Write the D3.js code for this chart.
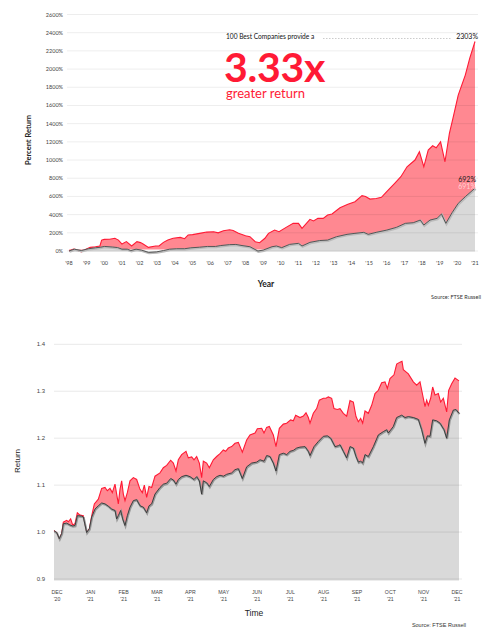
<!DOCTYPE html>
<html>
<head>
<meta charset="utf-8">
<script src="https://cdn.jsdelivr.net/npm/d3@7"></script>
<style>
  body { margin: 0; background: #fff; }
  svg { display: block; }
</style>
</head>
<body>
<svg></svg>
<script>
const width = 491;
const height = 634;

// top chart: cumulative percent return since 1998
const yearTicks = d3.range(1998, 2022);
const pctTicks = d3.range(0, 2601, 200);
const best100Long = [
  [1998.0, 0], [1998.25, 22], [1998.4, 15], [1998.7, -10], [1998.9, 15], [1999.2, 40], [1999.5, 47],
  [1999.75, 55], [1999.85, 120], [2000.0, 128], [2000.3, 130], [2000.6, 140], [2000.8, 120], [2001.0, 77],
  [2001.25, 103], [2001.55, 55], [2001.85, 103], [2002.05, 92], [2002.2, 77], [2002.5, 40], [2002.9, 55],
  [2003.1, 55], [2003.35, 95], [2003.6, 120], [2003.9, 140], [2004.3, 150], [2004.55, 135], [2004.75, 176],
  [2005.0, 180], [2005.4, 194], [2005.8, 208], [2006.2, 212], [2006.45, 200], [2006.75, 222], [2007.1, 233],
  [2007.3, 225], [2007.6, 194], [2008.0, 168], [2008.25, 157], [2008.55, 102], [2008.8, 91], [2009.1, 140],
  [2009.3, 194], [2009.65, 230], [2009.9, 212], [2010.3, 260], [2010.7, 304], [2011.0, 304], [2011.2, 249],
  [2011.65, 348], [2011.85, 330], [2012.1, 359], [2012.4, 359], [2012.65, 396], [2012.9, 407], [2013.35, 476],
  [2013.8, 513], [2014.2, 542], [2014.6, 608], [2014.8, 600], [2015.05, 571], [2015.4, 578], [2015.7, 590],
  [2016.0, 652], [2016.45, 744], [2016.8, 817], [2017.15, 926], [2017.6, 1000], [2017.85, 1091], [2018.1, 926],
  [2018.35, 1110], [2018.6, 1157], [2018.8, 1135], [2019.05, 1200], [2019.3, 981], [2019.55, 1293],
  [2019.75, 1458], [2020.05, 1714], [2020.45, 1934], [2020.7, 2117], [2021.0, 2303]
];
const russellLong = [
  [1998.0, 0], [1998.3, 20], [1998.7, 5], [1999.1, 25], [1999.5, 35], [1999.8, 42], [2000.0, 50],
  [2000.45, 44], [2000.75, 38], [2001.0, 20], [2001.3, 20], [2001.5, 5], [2001.8, 20], [2002.1, 10],
  [2002.5, -15], [2002.95, -10], [2003.35, 5], [2003.7, 20], [2004.1, 25], [2004.55, 25], [2004.9, 35],
  [2005.4, 42], [2005.85, 50], [2006.3, 50], [2006.6, 60], [2007.1, 70], [2007.45, 72], [2007.8, 60],
  [2008.25, 47], [2008.7, 0], [2009.0, 10], [2009.5, 47], [2009.75, 55], [2010.05, 37], [2010.5, 73],
  [2011.0, 84], [2011.2, 55], [2011.65, 95], [2012.2, 115], [2012.65, 120], [2013.15, 157], [2013.75, 183],
  [2014.2, 194], [2014.7, 205], [2014.95, 183], [2015.4, 205], [2016.0, 230], [2016.55, 260], [2017.05, 304],
  [2017.5, 311], [2017.9, 340], [2018.1, 285], [2018.45, 340], [2018.85, 359], [2019.1, 407], [2019.35, 304],
  [2019.7, 421], [2020.05, 524], [2020.45, 597], [2021.0, 691]
];

// bottom chart: growth of 1 over the last year (months from Dec '20)
const monthLabels = ["DEC", "JAN", "FEB", "MAR", "APR", "MAY", "JUN", "JUL", "AUG", "SEP", "OCT", "NOV", "DEC"];
const monthYears = ["'20", "'21", "'21", "'21", "'21", "'21", "'21", "'21", "'21", "'21", "'21", "'21", "'21"];
const returnTicks = [0.9, 1.0, 1.1, 1.2, 1.3, 1.4];
const best100Year = [
  [-0.09, 1.003], [-0.01, 0.999], [0.07, 0.986], [0.14, 0.997], [0.19, 1.021], [0.29, 1.025], [0.34, 1.022],
  [0.41, 1.028], [0.47, 1.015], [0.54, 1.018], [0.61, 1.041], [0.69, 1.036], [0.79, 1.035], [0.89, 1.000],
  [0.97, 1.007], [1.04, 1.034], [1.12, 1.060], [1.24, 1.070], [1.34, 1.093], [1.44, 1.095], [1.51, 1.088],
  [1.59, 1.093], [1.66, 1.084], [1.74, 1.102], [1.79, 1.081], [1.84, 1.060], [1.89, 1.091], [1.94, 1.109],
  [1.99, 1.081], [2.04, 1.067], [2.11, 1.084], [2.19, 1.109], [2.29, 1.116], [2.39, 1.112], [2.49, 1.091],
  [2.56, 1.084], [2.62, 1.100], [2.69, 1.074], [2.76, 1.097], [2.84, 1.095], [2.94, 1.119], [3.09, 1.126],
  [3.19, 1.137], [3.29, 1.142], [3.41, 1.153], [3.49, 1.147], [3.57, 1.130], [3.64, 1.154], [3.74, 1.165],
  [3.87, 1.172], [3.94, 1.158], [4.04, 1.160], [4.11, 1.154], [4.19, 1.161], [4.27, 1.147], [4.34, 1.116],
  [4.39, 1.151], [4.49, 1.147], [4.57, 1.137], [4.69, 1.154], [4.79, 1.161], [4.89, 1.167], [4.99, 1.175],
  [5.06, 1.172], [5.14, 1.179], [5.24, 1.182], [5.34, 1.189], [5.44, 1.191], [5.56, 1.170], [5.69, 1.196],
  [5.79, 1.207], [5.94, 1.211], [6.01, 1.220], [6.14, 1.221], [6.21, 1.211], [6.29, 1.223], [6.37, 1.225],
  [6.49, 1.207], [6.57, 1.182], [6.67, 1.221], [6.79, 1.230], [6.89, 1.232], [7.01, 1.239], [7.09, 1.237],
  [7.16, 1.249], [7.29, 1.244], [7.39, 1.247], [7.47, 1.254], [7.54, 1.244], [7.59, 1.232], [7.69, 1.253],
  [7.79, 1.263], [7.87, 1.281], [7.99, 1.285], [8.07, 1.285], [8.14, 1.288], [8.24, 1.285], [8.31, 1.263],
  [8.41, 1.261], [8.49, 1.263], [8.59, 1.253], [8.69, 1.247], [8.79, 1.280], [8.89, 1.277], [8.97, 1.246],
  [9.04, 1.235], [9.11, 1.242], [9.17, 1.232], [9.24, 1.258], [9.34, 1.253], [9.44, 1.270], [9.54, 1.295],
  [9.64, 1.302], [9.74, 1.318], [9.84, 1.320], [9.91, 1.306], [9.99, 1.327], [10.11, 1.335], [10.19, 1.358],
  [10.29, 1.362], [10.35, 1.364], [10.39, 1.346], [10.54, 1.337], [10.69, 1.320], [10.79, 1.313], [10.89, 1.320],
  [10.97, 1.292], [11.04, 1.267], [11.09, 1.281], [11.14, 1.270], [11.21, 1.285], [11.27, 1.309], [11.34, 1.292],
  [11.44, 1.295], [11.51, 1.277], [11.59, 1.285], [11.69, 1.256], [11.75, 1.302], [11.84, 1.316], [11.94, 1.328],
  [12.06, 1.322]
];
const russellYear = [
  [-0.09, 1.003], [-0.01, 0.999], [0.07, 0.986], [0.14, 0.997], [0.19, 1.018], [0.29, 1.019], [0.39, 1.015],
  [0.47, 1.013], [0.54, 1.014], [0.61, 1.035], [0.74, 1.034], [0.79, 1.032], [0.89, 0.999], [0.97, 1.007],
  [1.04, 1.032], [1.14, 1.049], [1.24, 1.056], [1.34, 1.062], [1.44, 1.060], [1.54, 1.055], [1.64, 1.049],
  [1.74, 1.046], [1.79, 1.028], [1.84, 1.035], [1.91, 1.046], [1.97, 1.028], [2.04, 1.014], [2.11, 1.035],
  [2.19, 1.053], [2.29, 1.067], [2.39, 1.069], [2.49, 1.056], [2.59, 1.053], [2.69, 1.041], [2.76, 1.056],
  [2.84, 1.060], [2.94, 1.081], [3.09, 1.095], [3.19, 1.102], [3.29, 1.104], [3.41, 1.114], [3.49, 1.111],
  [3.57, 1.102], [3.64, 1.112], [3.74, 1.118], [3.87, 1.121], [3.99, 1.118], [4.11, 1.112], [4.19, 1.118],
  [4.27, 1.109], [4.34, 1.081], [4.39, 1.109], [4.49, 1.105], [4.57, 1.097], [4.69, 1.112], [4.79, 1.118],
  [4.89, 1.121], [4.99, 1.119], [5.09, 1.123], [5.24, 1.126], [5.34, 1.133], [5.44, 1.135], [5.56, 1.114],
  [5.69, 1.139], [5.84, 1.147], [5.99, 1.149], [6.09, 1.154], [6.21, 1.151], [6.29, 1.163], [6.39, 1.161],
  [6.49, 1.147], [6.57, 1.130], [6.67, 1.165], [6.79, 1.168], [6.89, 1.165], [6.99, 1.172], [7.09, 1.174],
  [7.19, 1.179], [7.29, 1.181], [7.44, 1.182], [7.54, 1.172], [7.59, 1.163], [7.71, 1.182], [7.84, 1.193],
  [7.99, 1.204], [8.11, 1.205], [8.21, 1.200], [8.34, 1.182], [8.44, 1.184], [8.49, 1.186], [8.59, 1.172],
  [8.69, 1.158], [8.79, 1.182], [8.89, 1.179], [8.97, 1.161], [9.04, 1.149], [9.11, 1.151], [9.17, 1.147],
  [9.24, 1.165], [9.34, 1.161], [9.49, 1.182], [9.64, 1.207], [9.79, 1.214], [9.89, 1.218], [9.94, 1.211],
  [10.09, 1.225], [10.19, 1.244], [10.34, 1.249], [10.44, 1.244], [10.54, 1.246], [10.69, 1.244], [10.84, 1.240],
  [10.94, 1.218], [11.04, 1.189], [11.11, 1.205], [11.19, 1.204], [11.27, 1.239], [11.39, 1.237], [11.49, 1.232],
  [11.61, 1.218], [11.69, 1.200], [11.77, 1.239], [11.89, 1.260], [11.97, 1.261], [12.06, 1.253]
];

const red = "#ff1a35";
const pink = "#ff8891";
const grey = "#d9d9d9";
const topFont = "Lato, 'Open Sans', sans-serif";
const botFont = "'Liberation Sans', Arial, sans-serif";

const svg = d3.select("svg")
  .attr("width", width)
  .attr("height", height);

// ---------- top chart ----------
const xTop = d3.scaleLinear().domain([1998, 2021]).range([69, 475]);
const yTop = d3.scaleLinear().domain([0, 2600]).range([251, 14.5]);

const topG = svg.append("g").style("font-family", topFont);

const redAreaTop = d3.area().x(d => xTop(d[0])).y0(yTop(0) - 1.5).y1(d => yTop(d[1]));
const greyAreaTop = d3.area().x(d => xTop(d[0])).y0(yTop(0) + 0.5).y1(d => yTop(d[1]));
const lineTop = d3.line().x(d => xTop(d[0])).y(d => yTop(d[1]));

topG.append("path").datum(best100Long).attr("d", redAreaTop).attr("fill", pink);
topG.append("path").datum(russellLong).attr("d", greyAreaTop).attr("fill", grey);

topG.append("g")
  .selectAll("line")
  .data(pctTicks)
  .join("line")
    .attr("x1", 67).attr("x2", 478)
    .attr("y1", d => yTop(d)).attr("y2", d => yTop(d))
    .attr("stroke", "#000").attr("stroke-opacity", 0.07);

topG.append("path").datum(best100Long).attr("d", lineTop)
  .attr("fill", "none").attr("stroke", red).attr("stroke-width", 1.1);
topG.append("path").datum(russellLong).attr("d", lineTop)
  .attr("fill", "none").attr("stroke", "#bbb").attr("stroke-width", 2.2)
  .attr("transform", "translate(0.6,0.8)");
topG.append("path").datum(russellLong).attr("d", lineTop)
  .attr("fill", "none").attr("stroke", "#555").attr("stroke-width", 1);

topG.append("g")
  .selectAll("text")
  .data(pctTicks)
  .join("text")
    .attr("x", 63).attr("y", d => yTop(d) + 2)
    .attr("text-anchor", "end")
    .attr("font-size", 5.5).attr("fill", "#444")
    .text(d => d + "%");

topG.append("g")
  .selectAll("text")
  .data(yearTicks)
  .join("text")
    .attr("x", d => xTop(d)).attr("y", 265)
    .attr("text-anchor", "middle")
    .attr("font-size", 5.5).attr("fill", "#444")
    .text(d => "'" + String(d).slice(2));

topG.append("text")
  .attr("transform", `translate(31,140) rotate(-90)`)
  .attr("text-anchor", "middle")
  .attr("font-size", 7.5).attr("font-weight", 700).attr("fill", "#222")
  .text("Percent Return");

topG.append("text")
  .attr("x", 266).attr("y", 287)
  .attr("text-anchor", "middle")
  .attr("font-size", 8.5).attr("font-weight", 700).attr("fill", "#222")
  .text("Year");

topG.append("text")
  .attr("x", 481).attr("y", 299)
  .attr("text-anchor", "end")
  .attr("font-size", 5.5).attr("fill", "#333")
  .text("Source: FTSE Russell");

// annotation
const lastBest = best100Long[best100Long.length - 1];
const lastRussell = russellLong[russellLong.length - 1];

topG.append("text")
  .attr("x", 226).attr("y", 39)
  .attr("font-size", 6.6).attr("fill", "#111")
  .text("100 Best Companies provide a");
topG.append("line")
  .attr("x1", 323).attr("x2", 451)
  .attr("y1", 38.5).attr("y2", 38.5)
  .attr("stroke", "#aaa").attr("stroke-width", 0.6)
  .attr("stroke-dasharray", "1.5,1.5");
topG.append("text")
  .attr("x", 478).attr("y", 39)
  .attr("text-anchor", "end")
  .attr("font-size", 7).attr("fill", "#111")
  .text(lastBest[1] + "%");

topG.append("text")
  .attr("x", 224).attr("y", 82)
  .attr("font-size", 41).attr("font-weight", 700).attr("fill", red)
  .attr("letter-spacing", -0.3)
  .text((lastBest[1] / lastRussell[1]).toFixed(2) + "x");
topG.append("text")
  .attr("x", 226).attr("y", 98)
  .attr("font-size", 13).attr("fill", red)
  .text("greater return");

topG.append("text")
  .attr("x", 476).attr("y", 182)
  .attr("text-anchor", "end")
  .attr("font-size", 7).attr("fill", "#222")
  .text("692%");
topG.append("text")
  .attr("x", 476).attr("y", 189)
  .attr("text-anchor", "end")
  .attr("font-size", 7).attr("fill", "#ffd0d4")
  .text(lastRussell[1] + "%");

// ---------- bottom chart ----------
const xBot = d3.scaleLinear().domain([0, 12]).range([57, 457]);
const yBot = d3.scaleLinear().domain([0.9, 1.4]).range([579, 344.3]);

const botG = svg.append("g").style("font-family", botFont);

const redAreaBot = d3.area().x(d => xBot(d[0])).y0(yBot(0.9) - 3).y1(d => yBot(d[1]));
const greyAreaBot = d3.area().x(d => xBot(d[0])).y0(yBot(0.9) + 1.5).y1(d => yBot(d[1]));
const lineBot = d3.line().x(d => xBot(d[0])).y(d => yBot(d[1]));

botG.append("path").datum(best100Year).attr("d", redAreaBot).attr("fill", pink);
botG.append("path").datum(russellYear).attr("d", greyAreaBot).attr("fill", grey);

botG.append("g")
  .selectAll("line")
  .data(returnTicks)
  .join("line")
    .attr("x1", 54).attr("x2", 462)
    .attr("y1", d => yBot(d)).attr("y2", d => yBot(d))
    .attr("stroke", "#000").attr("stroke-opacity", 0.09);

botG.append("path").datum(best100Year).attr("d", lineBot)
  .attr("fill", "none").attr("stroke", red).attr("stroke-width", 1.1);
botG.append("path").datum(russellYear).attr("d", lineBot)
  .attr("fill", "none").attr("stroke", "#999").attr("stroke-width", 2)
  .attr("transform", "translate(0.5,0.8)");
botG.append("path").datum(russellYear).attr("d", lineBot)
  .attr("fill", "none").attr("stroke", "#333").attr("stroke-width", 0.9);

botG.append("g")
  .selectAll("text")
  .data(returnTicks)
  .join("text")
    .attr("x", 45).attr("y", d => yBot(d) + 2)
    .attr("text-anchor", "end")
    .attr("font-size", 6).attr("fill", "#444")
    .text(d => d.toFixed(1));

const monthTick = botG.append("g")
  .selectAll("g")
  .data(monthLabels)
  .join("g")
    .attr("transform", (d, i) => `translate(${xBot(i)},0)`);
monthTick.append("text")
  .attr("y", 594).attr("text-anchor", "middle")
  .attr("font-size", 5.2).attr("fill", "#444")
  .text(d => d);
monthTick.append("text")
  .attr("y", 601).attr("text-anchor", "middle")
  .attr("font-size", 5.2).attr("fill", "#444")
  .text((d, i) => monthYears[i]);

botG.append("text")
  .attr("transform", `translate(20,461) rotate(-90)`)
  .attr("text-anchor", "middle")
  .attr("font-size", 8).attr("fill", "#222")
  .text("Return");

botG.append("text")
  .attr("x", 254).attr("y", 616)
  .attr("text-anchor", "middle")
  .attr("font-size", 8.5).attr("fill", "#222")
  .text("Time");

botG.append("text")
  .attr("x", 466).attr("y", 627)
  .attr("text-anchor", "end")
  .attr("font-size", 5.5).attr("fill", "#333")
  .text("Source: FTSE Russell");
</script>
</body>
</html>
